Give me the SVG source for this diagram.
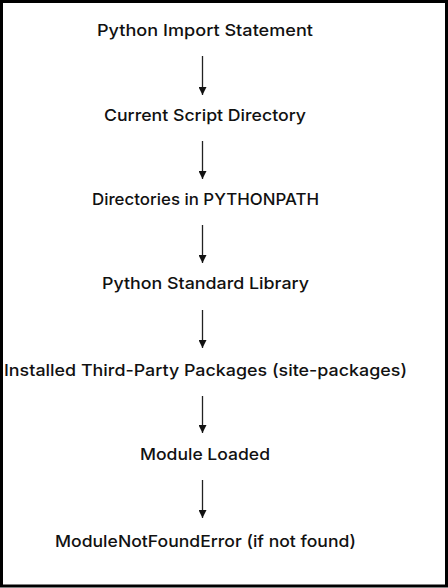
<svg xmlns="http://www.w3.org/2000/svg" width="448" height="588" viewBox="0 0 448 588">
<defs>
<style>
.t{font-family:Inter,"Open Sans","Liberation Sans",sans-serif;font-size:16.5px;font-weight:500;fill:#111;text-anchor:middle}
.c{stroke:#222;stroke-width:1.3;fill:none}
</style>
<marker id="ah" viewBox="0 0 10 10" refX="10" refY="5" markerWidth="8" markerHeight="8" markerUnits="userSpaceOnUse" orient="auto">
<path d="M0,0 L10,5 L0,10 z" fill="#111"/>
</marker>
</defs>
<rect x="1.5" y="1.5" width="445" height="584.5" fill="#fff" stroke="#000" stroke-width="3"/>
<g id="n1"><text class="t" x="205" y="36" textLength="216" lengthAdjust="spacingAndGlyphs">Python Import Statement</text></g>
<g id="n2"><text class="t" x="205" y="121" textLength="202" lengthAdjust="spacingAndGlyphs">Current Script Directory</text></g>
<g id="n3"><text class="t" x="205.5" y="205" textLength="227" lengthAdjust="spacingAndGlyphs">Directories in PYTHONPATH</text></g>
<g id="n4"><text class="t" x="205.5" y="289" textLength="207" lengthAdjust="spacingAndGlyphs">Python Standard Library</text></g>
<g id="n5"><text class="t" x="205.5" y="376" textLength="403" lengthAdjust="spacingAndGlyphs">Installed Third-Party Packages (site-packages)</text></g>
<g id="n6"><text class="t" x="205" y="460" textLength="130" lengthAdjust="spacingAndGlyphs">Module Loaded</text></g>
<g id="n7"><text class="t" x="205.5" y="547" textLength="301" lengthAdjust="spacingAndGlyphs">ModuleNotFoundError (if not found)</text></g>
<g id="connectors">
<line class="c" x1="202.5" y1="56" x2="202.5" y2="95" marker-end="url(#ah)"/>
<line class="c" x1="202.5" y1="141" x2="202.5" y2="179" marker-end="url(#ah)"/>
<line class="c" x1="202.5" y1="225" x2="202.5" y2="263" marker-end="url(#ah)"/>
<line class="c" x1="202.5" y1="310" x2="202.5" y2="348" marker-end="url(#ah)"/>
<line class="c" x1="202.5" y1="396" x2="202.5" y2="433" marker-end="url(#ah)"/>
<line class="c" x1="202.5" y1="480" x2="202.5" y2="518" marker-end="url(#ah)"/>
</g>
</svg>
